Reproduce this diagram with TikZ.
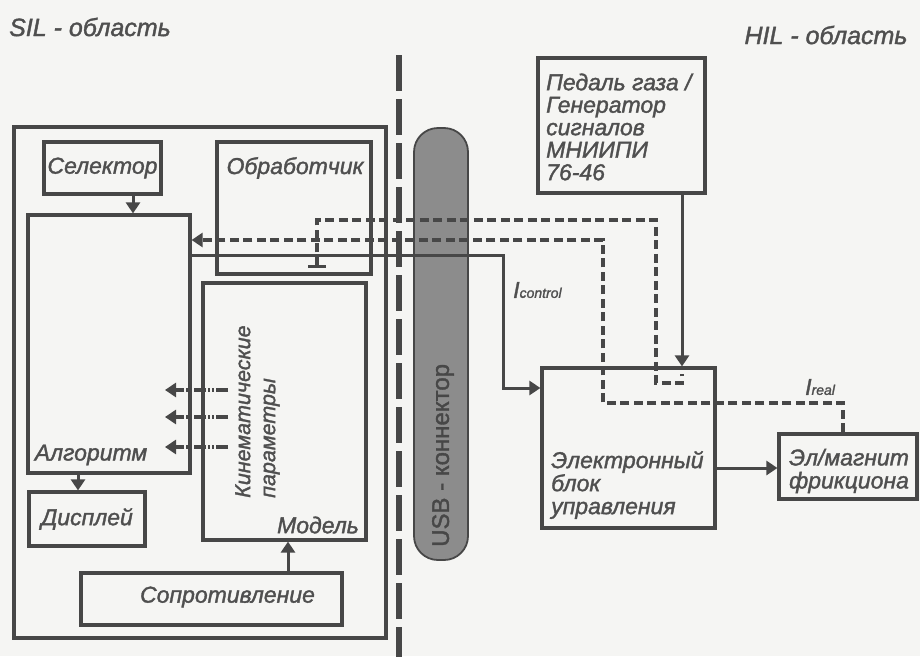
\documentclass[tikz,border=0pt]{standalone}
\usepackage{fontspec}
\setmainfont{Liberation Sans}
\newfontfamily\labfont[FakeBold=1.5]{Liberation Sans}
\usetikzlibrary{arrows.meta,calc}
\definecolor{ink}{HTML}{474747}
\definecolor{txt}{HTML}{4F4F4F}
\definecolor{usbfill}{HTML}{8C8C8C}
\definecolor{bg}{HTML}{F5F5F3}
\begin{document}
\begin{tikzpicture}[x=1pt,y=-1pt,
  every node/.style={font=\labfont\fontsize{23}{23}\selectfont\itshape, text=txt},
  box/.style={draw=ink, line width=3.2pt, rectangle, inner sep=0pt},
  lbl/.style={inner sep=0pt},
  tip/.style={-{Triangle[length=11pt,width=14pt]}},
  arr/.style={draw=ink, line width=3pt, tip},
  dsh/.style={draw=ink, line width=3.4pt, dash pattern=on 9pt off 4.5pt},
  kdash/.style={draw=ink, line width=3.2pt, dash pattern=on 12pt off 2pt on 2pt off 2pt on 2pt off 2pt, tip},
  sepline/.style={draw=ink, line width=6.5pt, dash pattern=on 36pt off 8pt}]
\fill[bg] (0,0) rectangle (920,656);
\useasboundingbox (0,0) rectangle (920,656);

% titles
\node[lbl, font=\labfont\fontsize{25}{25}\selectfont\itshape] (silt) at (90,27) {SIL - область};
\node[lbl, font=\labfont\fontsize{25}{25}\selectfont\itshape] (hilt) at (826,35) {HIL - область};

% SIL area
\node[box, minimum width=372pt, minimum height=511pt] (sil) at (200,382.5) {};
\node[box, minimum width=117pt, minimum height=52pt] (sel) at (102.5,168) {Селектор};
\node[box, minimum width=162pt, minimum height=258pt] (alg) at (109,344) {};
\node[lbl] (algt) at (91,455) {Алгоритм};
\node[box, minimum width=154pt, minimum height=132pt] (obr) at (294,208) {};
\node[lbl] (obrt) at (295,168) {Обработчик};
\node[box, minimum width=163pt, minimum height=257pt] (mod) at (284.5,411.5) {};
\node[lbl] (modt) at (318,525) {Модель};
\node[lbl, rotate=90, align=left, anchor=west, font=\labfont\fontsize{21.5}{25}\selectfont\itshape] (kin) at (257.5,498) {Кинематические\\параметры};
\node[box, minimum width=116pt, minimum height=54pt] (disp) at (87,519) {Дисплей};
\node[box, minimum width=261pt, minimum height=52pt] (sop) at (211.5,599) {};
\node[lbl] (sopt) at (227.5,597) {Сопротивление};

% separator and USB
\coordinate (vtop) at (399,55);
\coordinate (vbot) at (399,660);
\draw[sepline] (vtop) -- (vbot);
\node[draw=ink, fill=usbfill, line width=1.8pt, rounded corners=24pt, minimum width=54pt, minimum height=432pt, inner sep=0pt] (usb) at (441,344) {};
\node[lbl, rotate=90, anchor=west, font=\labfont\fontsize{24}{24}\selectfont, text=ink] (usbt) at (443,547) {USB - коннектор};

% HIL area
\node[box, minimum width=167pt, minimum height=135pt] (ped) at (621.5,125.5) {};
\node[lbl, align=left, anchor=west, font=\labfont\fontsize{23}{22.5}\selectfont\itshape] (pedt) at (546,127) {Педаль газа /\\Генератор\\сигналов\\МНИИПИ\\76-46};
\node[box, minimum width=173pt, minimum height=160pt] (ebu) at (628.5,448) {};
\node[lbl, align=left, anchor=west] (ebut) at (551,485) {Электронный\\блок\\управления};
\node[box, minimum width=138pt, minimum height=65pt] (elm) at (848,466.5) {};
\node[lbl, align=center] (elmt) at (849,471) {Эл/магнит\\фрикциона};

% solid arrows
\draw[arr] (133,0 |- sel.south) -- (133,0 |- alg.north);
\draw[arr] (78,0 |- alg.south) -- (78,0 |- disp.north);
\draw[arr] (288,0 |- sop.north) -- (288,0 |- mod.south);
\draw[arr] (682,0 |- ped.south) -- (682,0 |- ebu.north);
\draw[arr] (ebu.east |- 0,468) -- (elm.west |- 0,468);

% kinematic parameter arrows
\foreach \yy/\nm in {390/ka,417/kb,447/kc}{
  \coordinate (\nm s) at (228,\yy);
  \coordinate (\nm e) at (165,\yy);
  \draw[kdash] (\nm s) -- (\nm e);
}

% I_control
\draw[arr] (alg.east |- 0,255) -| (503,388) -- (ebu.west |- 0,388);
\node[lbl, anchor=west] (ictl) at (513,290) {I{\fontsize{14}{14}\selectfont control}};

% I_real
\draw[dsh, tip] (elm.north -| 843,0) |- (603,403) |- (alg.east |- 0,240);
\node[lbl, anchor=west] (ireal) at (805,387) {I{\fontsize{14}{14}\selectfont real}};

% feedback to processor
\coordinate (tb) at (317,268);
\coordinate (te) at (682,374);
\draw[dsh, {Bar[width=18pt,line width=3pt]}-] (tb) |- (656,220) |- (682,383) -- (te);
\end{tikzpicture}
\end{document}
